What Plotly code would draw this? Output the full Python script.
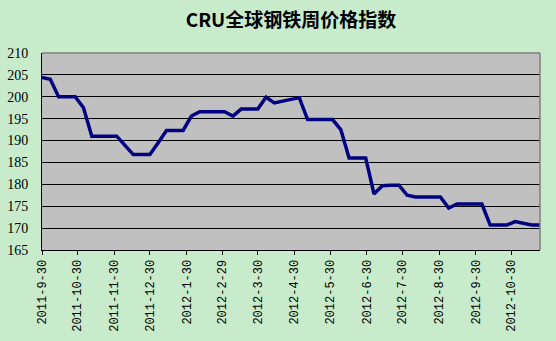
import plotly.graph_objects as go

dates = [
    "2011-09-30", "2011-10-07", "2011-10-14", "2011-10-21", "2011-10-28",
    "2011-11-04", "2011-11-11", "2011-11-18", "2011-11-25",
    "2011-12-02", "2011-12-09", "2011-12-16", "2011-12-23", "2011-12-30",
    "2012-01-06", "2012-01-13", "2012-01-20", "2012-01-27",
    "2012-02-03", "2012-02-10", "2012-02-17", "2012-02-24",
    "2012-03-02", "2012-03-09", "2012-03-16", "2012-03-23", "2012-03-30",
    "2012-04-06", "2012-04-13", "2012-04-20", "2012-04-27",
    "2012-05-04", "2012-05-11", "2012-05-18", "2012-05-25",
    "2012-06-01", "2012-06-08", "2012-06-15", "2012-06-22", "2012-06-29",
    "2012-07-06", "2012-07-13", "2012-07-20", "2012-07-27",
    "2012-08-03", "2012-08-10", "2012-08-17", "2012-08-24", "2012-08-31",
    "2012-09-07", "2012-09-14", "2012-09-21", "2012-09-28",
    "2012-10-05", "2012-10-12", "2012-10-19", "2012-10-26",
    "2012-11-02", "2012-11-09", "2012-11-16", "2012-11-23",
]

index_values = [
    204.4, 204.0, 200.0, 200.0, 200.0,
    197.5, 191.0, 191.0, 191.0,
    191.0, 188.9, 186.8, 186.8, 186.8,
    189.5, 192.3, 192.3, 192.3,
    195.6, 196.6, 196.6, 196.6,
    196.6, 195.6, 197.2, 197.2, 197.2,
    199.9, 198.6, 199.0, 199.4,
    199.8, 194.8, 194.8, 194.8,
    194.8, 192.5, 186.0, 186.0, 186.0,
    177.8, 179.7, 179.8, 179.8,
    177.5, 177.1, 177.1, 177.1, 177.1,
    174.6, 175.5, 175.5, 175.5,
    175.5, 170.7, 170.7, 170.7,
    171.5, 171.0, 170.7, 170.7,
]

tick_dates = [
    "2011-09-30", "2011-10-30", "2011-11-30", "2011-12-30", "2012-01-30",
    "2012-02-29", "2012-03-30", "2012-04-30", "2012-05-30", "2012-06-30",
    "2012-07-30", "2012-08-30", "2012-09-30", "2012-10-30",
]
tick_labels = [
    "2011-9-30", "2011-10-30", "2011-11-30", "2011-12-30", "2012-1-30",
    "2012-2-29", "2012-3-30", "2012-4-30", "2012-5-30", "2012-6-30",
    "2012-7-30", "2012-8-30", "2012-9-30", "2012-10-30",
]

title_text = "CRU全球钢铁周价格指数"

fig = go.Figure()
fig.add_trace(go.Scatter(
    x=dates, y=index_values, mode="lines",
    line=dict(color="#000080", width=3.5),
    showlegend=False,
))

fig.update_layout(
    width=556, height=341,
    margin=dict(l=42, r=16, t=53, b=91, pad=0),
    paper_bgcolor="#C8ECCB",
    plot_bgcolor="#C0C0C0",
    title=dict(
        text="<b>" + title_text + "</b>",
        x=0.5, xref="paper", xanchor="center",
        y=1 - 20 / 341, yref="container", yanchor="middle",
        font=dict(family="Noto Sans CJK SC", size=19, color="#000000"),
    ),
    xaxis=dict(
        type="date",
        range=["2011-09-30", "2012-11-23"],
        tickmode="array", tickvals=tick_dates, ticktext=tick_labels,
        tickangle=-90, automargin=False,
        ticks="outside", ticklen=4, tickcolor="#000000", tickwidth=1,
        showgrid=False, zeroline=False,
        showline=True, linecolor="#000000", linewidth=1,
        tickfont=dict(family="Liberation Mono", size=12, color="#000000"),
    ),
    yaxis=dict(
        range=[165, 210], dtick=5, tick0=165,
        showgrid=True, gridcolor="#000000", gridwidth=1,
        zeroline=False, automargin=False,
        showline=True, linecolor="#000000", linewidth=1,
        ticks="", ticklabelstandoff=10,
        tickfont=dict(family="Liberation Serif", size=14, color="#000000"),
    ),
    shapes=[
        dict(type="line", xref="paper", yref="paper", x0=0, x1=1, y0=1, y1=1,
             line=dict(color="#808080", width=1.5), layer="above"),
        dict(type="line", xref="paper", yref="paper", x0=1, x1=1, y0=0, y1=1,
             line=dict(color="#808080", width=1.5), layer="above"),
    ],
)

fig.write_html("out.html")
